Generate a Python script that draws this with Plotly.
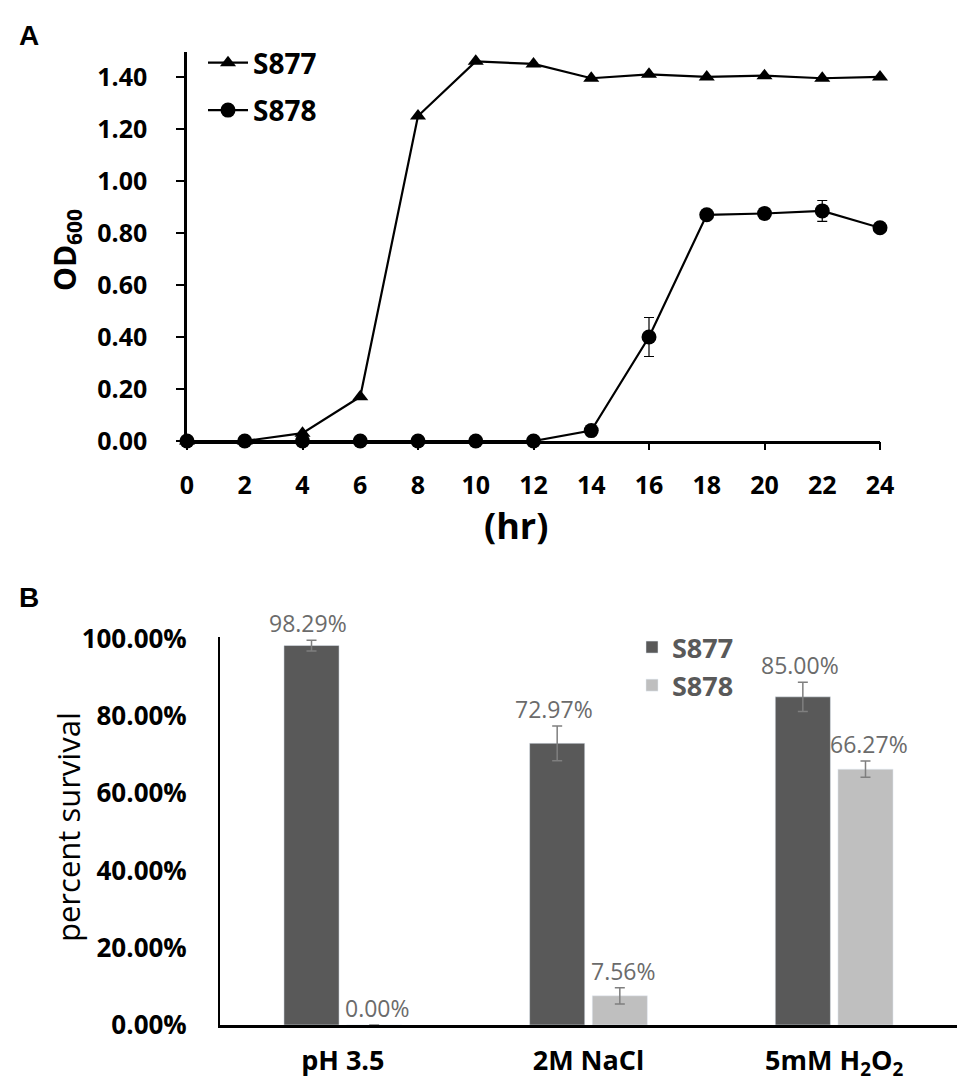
import plotly.graph_objects as go

# panel A - growth curves
hours = [0, 2, 4, 6, 8, 10, 12, 14, 16, 18, 20, 22, 24]
s877_od = [0.00, 0.00, 0.03, 0.17, 1.25, 1.46, 1.45, 1.395, 1.41, 1.40, 1.405, 1.395, 1.40]
s878_od = [0.00, 0.00, 0.00, 0.00, 0.00, 0.00, 0.00, 0.04, 0.40, 0.87, 0.875, 0.885, 0.82]
s878_od_err = [0, 0, 0, 0, 0, 0, 0, 0.005, 0.075, 0.01, 0.02, 0.04, 0.01]
od_ticks = [0, 0.2, 0.4, 0.6, 0.8, 1.0, 1.2, 1.4]
tick_marks = [0, 4, 8, 12, 16, 20, 24]

# panel B - stress survival
conditions = ["pH 3.5", "2M NaCl", "5mM H<sub>2</sub>O<sub>2</sub>"]
s877_pct = [98.29, 72.97, 85.00]
s878_pct = [0.00, 7.56, 66.27]
s877_err = [1.4, 4.5, 3.8]
s878_err = [0.0, 2.1, 2.1]
pct_ticks = [0, 20, 40, 60, 80, 100]

FONT = "Open Sans"
dark = "#595959"
light = "#bfbfbf"
W, H = 975, 1087
OFF = 8  # page body margin


def fx(px):
    return (px - OFF) / W


def fy(py):
    return 1 - (py - OFF) / H


fig = go.Figure()

fig.add_trace(go.Scatter(
    x=hours, y=s877_od, name="S877", mode="lines+markers",
    line=dict(color="black", width=2.2),
    marker=dict(symbol="triangle-up", size=14, color="black"),
    xaxis="x", yaxis="y", legend="legend", legendgroup="a1", cliponaxis=False
))
fig.add_trace(go.Scatter(
    x=hours, y=s878_od, name="S878", mode="lines+markers",
    line=dict(color="black", width=2.2),
    marker=dict(symbol="circle", size=15, color="black"),
    error_y=dict(type="data", array=s878_od_err, color="black", thickness=1.2, width=5),
    xaxis="x", yaxis="y", legend="legend", legendgroup="a2", cliponaxis=False
))

fig.add_trace(go.Bar(
    x=conditions, y=s877_pct, name="S877", marker_color=dark,
    error_y=dict(type="data", array=s877_err, color="#7f7f7f", thickness=1.5, width=5),
    xaxis="x2", yaxis="y2", legend="legend2"
))
fig.add_trace(go.Bar(
    x=conditions, y=s878_pct, name="S878", marker_color=light,
    error_y=dict(type="data", array=s878_err, color="#7f7f7f", thickness=1.5, width=5),
    xaxis="x2", yaxis="y2", legend="legend2"
))

# extra axis just for the tick marks every 4 hr
fig.add_trace(go.Scatter(x=[0, 24], y=[0, 0], mode="markers", marker=dict(opacity=0),
                         showlegend=False, xaxis="x3", yaxis="y", hoverinfo="skip"))

bold = dict(family=FONT, size=25, color="black", weight="bold")

fig.update_layout(
    width=W, height=H,
    margin=dict(l=0, r=0, t=0, b=0, autoexpand=False),
    plot_bgcolor="white", paper_bgcolor="white",
    font=dict(family=FONT, color="black"),
    barmode="group", bargap=0.49, bargroupgap=0.12,
    xaxis=dict(domain=[fx(187), fx(880)], anchor="y", range=[0, 24], automargin=False,
               tickvals=hours, ticks="", tickfont=bold, ticklabelstandoff=20,
               showline=True, linecolor="black", linewidth=2.5,
               showgrid=False, zeroline=False),
    xaxis3=dict(overlaying="x", anchor="y", range=[0, 24], tickvals=tick_marks, automargin=False,
                ticks="outside", ticklen=8, tickwidth=2, tickcolor="black",
                showticklabels=False, showgrid=False, zeroline=False, showline=False),
    yaxis=dict(domain=[fy(441), fy(52)], anchor="x", range=[0, 1.496], automargin=False,
               tickvals=od_ticks, tickformat=".2f", tickfont=bold,
               ticks="outside", ticklen=8, tickwidth=2, tickcolor="black",
               ticklabelstandoff=24,
               showline=True, linecolor="black", linewidth=2.5,
               showgrid=False, zeroline=False),
    xaxis2=dict(domain=[fx(220), fx(957)], anchor="y2", automargin=False,
                tickfont=dict(family=FONT, size=27, color="black", weight="bold"),
                ticks="", ticklabelstandoff=10,
                showline=True, linecolor="black", linewidth=2.5, showgrid=False),
    yaxis2=dict(domain=[fy(1025), fy(637)], anchor="x2", range=[0, 100.5], automargin=False,
                tickvals=pct_ticks, ticktext=[f"{t:.2f}%" for t in pct_ticks],
                tickfont=dict(family=FONT, size=26, color="black", weight="bold"),
                ticks="", ticklabelstandoff=26,
                showline=True, linecolor="black", linewidth=2,
                showgrid=False, zeroline=False),
    legend=dict(x=fx(203), y=fy(38), xanchor="left", yanchor="top",
                font=dict(family=FONT, size=28, color="black", weight="bold"),
                bgcolor="rgba(0,0,0,0)", tracegroupgap=8, itemwidth=40),
    legend2=dict(x=fx(632), y=fy(623), xanchor="left", yanchor="top",
                 font=dict(family=FONT, size=27, color=dark, weight="bold"),
                 bgcolor="rgba(0,0,0,0)", tracegroupgap=0),
)

# data labels sit just above the error bars
for vals, errs, shift in [(s877_pct, s877_err, -34.5), (s878_pct, s878_err, 34.5)]:
    for c, v, e in zip(conditions, vals, errs):
        fig.add_annotation(text=f"{v:.2f}%", x=c, y=v + e, xref="x2", yref="y2",
                           xshift=shift, yshift=-1, yanchor="bottom", xanchor="center",
                           showarrow=False,
                           font=dict(family=FONT, size=23, color="#6b6b6b"))

fig.add_annotation(text="A", x=fx(29), y=fy(35), xref="paper", yref="paper",
                   showarrow=False, xanchor="center", yanchor="middle",
                   font=dict(family="Liberation Sans", size=28, color="black", weight="bold"))
fig.add_annotation(text="B", x=fx(29), y=fy(597), xref="paper", yref="paper",
                   showarrow=False, xanchor="center", yanchor="middle",
                   font=dict(family="Liberation Sans", size=28, color="black", weight="bold"))
fig.add_annotation(text="OD<sub>600</sub>", x=fx(66), y=fy(250), xref="paper", yref="paper",
                   showarrow=False, textangle=-90, xanchor="center", yanchor="middle",
                   font=dict(family=FONT, size=30, color="black", weight="bold"))
fig.add_annotation(text="(hr)", x=fx(516), y=fy(525), xref="paper", yref="paper",
                   showarrow=False, xanchor="center", yanchor="middle",
                   font=dict(family=FONT, size=36, color="black", weight="bold"))
fig.add_annotation(text="percent survival", x=fx(68), y=fy(827), xref="paper", yref="paper",
                   showarrow=False, textangle=-90, xanchor="center", yanchor="middle",
                   font=dict(family=FONT, size=31, color="black"))

fig.write_html("out.html")
